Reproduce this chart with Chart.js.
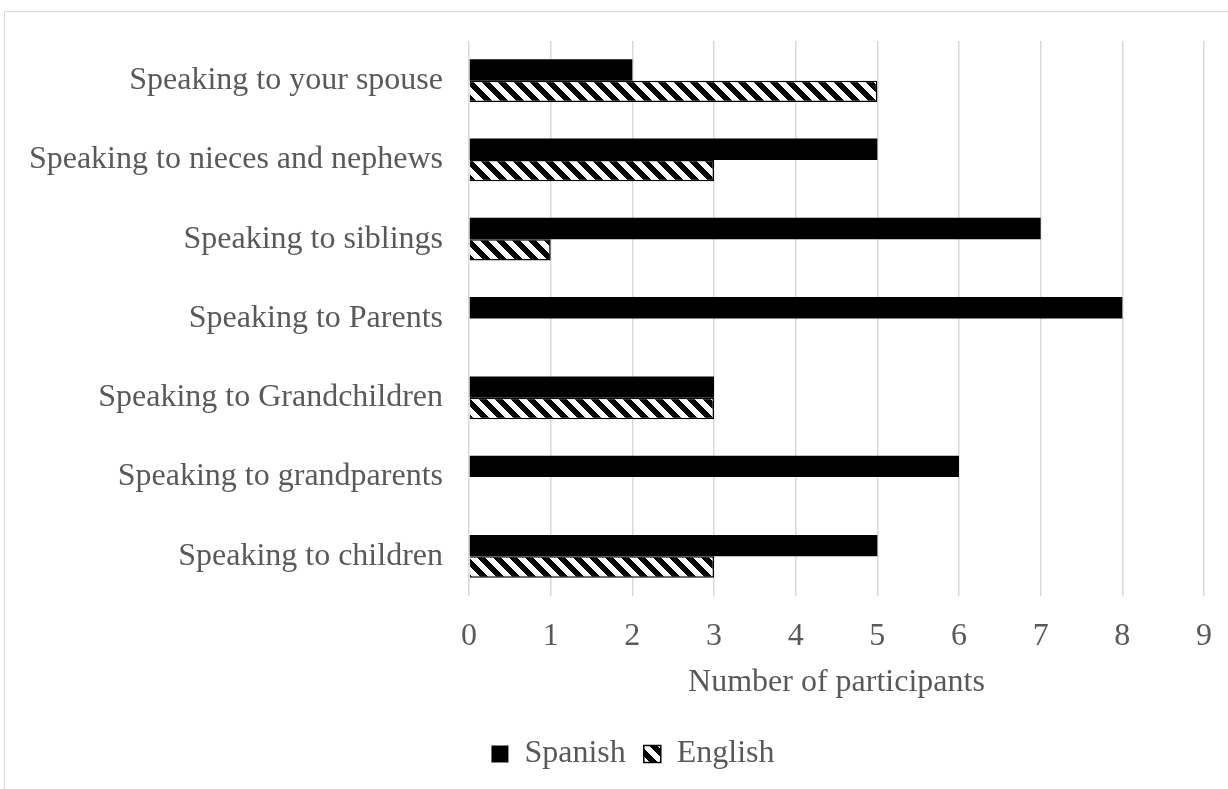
<!DOCTYPE html>
<html>
<head>
<meta charset="utf-8">
<script src="https://cdn.jsdelivr.net/npm/chart.js@4/dist/chart.umd.min.js"></script>
<style>
  html, body { margin: 0; padding: 0; background: #fff; overflow: hidden; }
  #frame { position: absolute; left: 4px; top: 11px; width: 1300px; height: 900px;
           border-left: 1.5px solid #d9d9d9; border-top: 1.5px solid #d9d9d9; }
  #wrap { position: absolute; left: 0; top: 0; width: 1228px; height: 789px; }
</style>
</head>
<body>
<div id="frame"></div>
<div id="wrap"><canvas id="chart" width="1228" height="789"></canvas></div>
<script>
const categories = [
  'Speaking to your spouse',
  'Speaking to nieces and nephews',
  'Speaking to siblings',
  'Speaking to Parents',
  'Speaking to Grandchildren',
  'Speaking to grandparents',
  'Speaking to children'
];
const spanish = [2, 5, 7, 8, 3, 6, 5];
const english = [5, 3, 1, 0, 3, 0, 3];
const xTicks = [0, 1, 2, 3, 4, 5, 6, 7, 8, 9];

const FONT = 'Liberation Serif, Times New Roman, serif';
const TEXT = '#595959';

const canvas = document.getElementById('chart');
const ctx = canvas.getContext('2d');

// downward diagonal hatch, 16px tile
function hatch() {
  const c = document.createElement('canvas');
  c.width = 16; c.height = 16;
  const g = c.getContext('2d');
  g.fillStyle = '#fff';
  g.fillRect(0, 0, 16, 16);
  g.fillStyle = '#000';
  for (let y = 0; y < 16; y++) {
    for (let x = 0; x < 16; x++) {
      if ((((x - y) % 16) + 16) % 16 < 8) g.fillRect(x, y, 1, 1);
    }
  }
  return ctx.createPattern(c, 'repeat');
}

// nudge the legend row to the right of the centre
const legendShift = {
  id: 'legendShift',
  afterLayout(chart) {
    const lg = chart.legend;
    if (lg) { lg.left += 31; lg.right += 31; }
  }
};

new Chart(canvas, {
  type: 'bar',
  data: {
    labels: categories,
    datasets: [
      { label: 'Spanish', data: spanish, backgroundColor: '#000', borderColor: '#000', borderWidth: 0 },
      { label: 'English', data: english, backgroundColor: hatch(), borderColor: '#000', borderWidth: 1.5 }
    ]
  },
  plugins: [legendShift],
  options: {
    indexAxis: 'y',
    responsive: false,
    animation: false,
    devicePixelRatio: 1,
    layout: { padding: { top: 41, right: 24, bottom: 9, left: 0 } },
    datasets: { bar: { categoryPercentage: 0.54, barPercentage: 1.0 } },
    scales: {
      x: {
        min: 0, max: 9,
        afterBuildTicks: (s) => { s.ticks = xTicks.map(v => ({ value: v })); },
        afterFit: (s) => { s.height = 132; s.paddingLeft = 0; s.paddingRight = 0; },
        grid: { color: '#d9d9d9', lineWidth: 1.5, drawTicks: false },
        border: { display: false },
        ticks: { color: TEXT, font: { family: FONT, size: 32 }, padding: 21 },
        title: { display: true, text: 'Number of participants', color: TEXT,
                 font: { family: FONT, size: 32 }, padding: { top: 0, bottom: 26 } }
      },
      y: {
        afterFit: (s) => { s.width = 469; s.paddingTop = 0; s.paddingBottom = 0; },
        grid: { display: false, drawTicks: false },
        border: { display: false },
        ticks: { color: TEXT, font: { family: FONT, size: 32 }, padding: 26 }
      }
    },
    plugins: {
      legend: {
        position: 'bottom',
        labels: {
          color: TEXT, font: { family: FONT, size: 32 }, boxWidth: 17, boxHeight: 17, padding: 10,
          // a little extra room after each entry except the last
          generateLabels: (chart) => {
            const items = Chart.defaults.plugins.legend.labels.generateLabels(chart);
            items.forEach((it, i) => { if (i < items.length - 1) it.text = it.text + ' '; });
            return items;
          }
        }
      },
      tooltip: { enabled: false }
    }
  }
});
</script>
</body>
</html>
